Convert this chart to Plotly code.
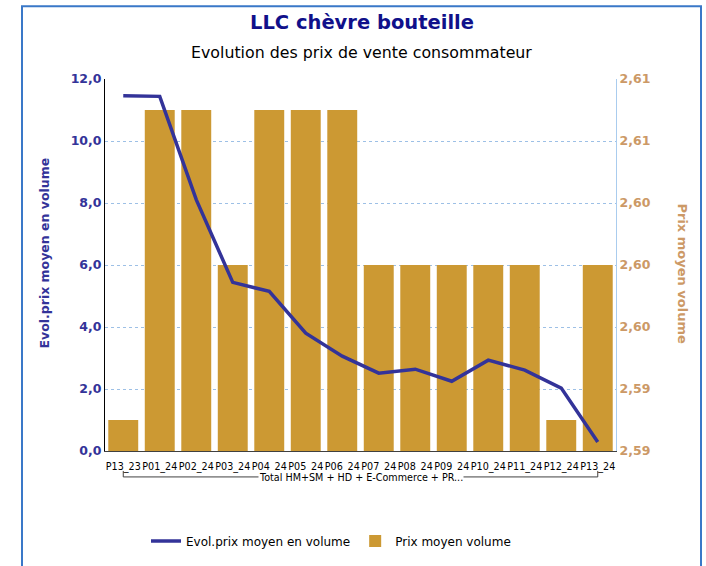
import plotly.graph_objects as go

categories = ["P13_23", "P01_24", "P02_24", "P03_24", "P04_24", "P05_24", "P06_24",
              "P07_24", "P08_24", "P09_24", "P10_24", "P11_24", "P12_24", "P13_24"]
evol_prix = [11.46, 11.44, 8.11, 5.44, 5.15, 3.80, 3.06, 2.51, 2.64, 2.25, 2.93, 2.61, 2.03, 0.29]
prix_moyen = [2.590, 2.610, 2.610, 2.600, 2.610, 2.610, 2.610, 2.600, 2.600, 2.600, 2.600, 2.600, 2.590, 2.600]
right_tickvals = [2.588, 2.592, 2.596, 2.600, 2.604, 2.608, 2.612]
right_ticklabels = ["2,59", "2,59", "2,60", "2,60", "2,60", "2,61", "2,61"]
left_tickvals = [0, 2, 4, 6, 8, 10, 12]
group_label = "Total HM+SM + HD + E-Commerce + PR..."

FONT = "DejaVu Sans"
BLUE = "#333399"
GOLD = "#CC9933"
TAN = "#CC9966"

W_FIG, H_FIG = 706, 566
L, R, T, B = 105, 616, 79, 452
PW, PH = R - L, B - T


def px(xp):
    return (xp - L) / PW


def py(yp):
    return (B - yp) / PH


fig = go.Figure()
fig.add_trace(go.Bar(x=categories, y=prix_moyen, name="Prix moyen volume",
                     marker=dict(color=GOLD, line=dict(width=0)), yaxis="y"))
fig.add_trace(go.Scatter(x=categories, y=evol_prix, name="Evol.prix moyen en volume",
                         mode="lines", line=dict(color=BLUE, width=3.5), yaxis="y2"))

fig.update_layout(
    width=W_FIG, height=H_FIG,
    margin=dict(l=L, r=W_FIG - R, t=T, b=H_FIG - B),
    paper_bgcolor="white", plot_bgcolor="white",
    separators=", ",
    font=dict(family=FONT, color="black"),
    bargap=0.18,
    xaxis=dict(type="category", tickangle=0, ticks="", showline=True,
               linecolor="#404040", linewidth=1, showgrid=False,
               ticklabelstandoff=6,
               tickfont=dict(family=FONT, size=9.6, color="black")),
    yaxis=dict(side="right", range=[2.588, 2.612], tickvals=right_tickvals,
               ticktext=right_ticklabels, showline=True, linecolor="#aaccee",
               showgrid=True, gridcolor="#9dc0e6", griddash="dot", gridwidth=1,
               zeroline=False, ticks="",
               tickfont=dict(family=FONT, size=12.5, color=TAN, weight="bold")),
    yaxis2=dict(overlaying="y", side="left", range=[0, 12], tickvals=left_tickvals,
                tickformat=".1f", showgrid=False, showline=True, linecolor="black",
                linewidth=1, zeroline=False, ticks="",
                tickfont=dict(family=FONT, size=12.5, color=BLUE, weight="bold")),
    legend=dict(orientation="h", x=px(331), y=py(541), xanchor="center", yanchor="middle",
                font=dict(family=FONT, size=12, color="black"),
                traceorder="reversed", itemwidth=30),
    showlegend=True,
)

annotations = [
    dict(text="LLC chèvre bouteille", xref="paper", yref="paper",
         x=px(362), y=py(22), xanchor="center", yanchor="middle", showarrow=False,
         font=dict(family=FONT, size=19.5, color="#10108a", weight="bold")),
    dict(text="Evolution des prix de vente consommateur", xref="paper", yref="paper",
         x=px(361), y=py(52), xanchor="center", yanchor="middle", showarrow=False,
         font=dict(family=FONT, size=15.8, color="black")),
    dict(text="Evol.prix moyen en volume", xref="paper", yref="paper",
         x=px(45), y=py(254), xanchor="center", yanchor="middle",
         textangle=-90, showarrow=False,
         font=dict(family=FONT, size=12.5, color=BLUE, weight="bold")),
    dict(text="Prix moyen volume", xref="paper", yref="paper",
         x=px(683), y=py(274), xanchor="center", yanchor="middle",
         textangle=90, showarrow=False,
         font=dict(family=FONT, size=13, color=TAN, weight="bold")),
    dict(text=group_label, xref="paper", yref="paper", x=px(361), y=py(478.5),
         xanchor="center", yanchor="middle", showarrow=False, bgcolor="white",
         borderpad=0, font=dict(family=FONT, size=9.6, color="black")),
]
fig.update_layout(annotations=annotations)

y_top = py(472)
y_bot = py(478)
shapes = [
    dict(type="line", xref="x", yref="paper", x0=categories[0], x1=categories[0],
         y0=y_top, y1=y_bot, line=dict(color="#404040", width=1), layer="below"),
    dict(type="line", xref="x", yref="paper", x0=categories[0], x1=categories[-1],
         y0=y_bot, y1=y_bot, line=dict(color="#404040", width=1), layer="below"),
    dict(type="line", xref="x", yref="paper", x0=categories[-1], x1=categories[-1],
         y0=y_top, y1=y_bot, line=dict(color="#404040", width=1), layer="below"),
    dict(type="rect", xref="paper", yref="paper", x0=px(22), x1=px(701),
         y0=py(590), y1=py(6),
         line=dict(color="#3a78c8", width=2), fillcolor="rgba(0,0,0,0)"),
]
fig.update_layout(shapes=shapes)

fig.write_html("out.html",
               config={"displayModeBar": False},
               post_script="document.body.style.margin='0px';"
                           "document.body.style.overflow='hidden';")
